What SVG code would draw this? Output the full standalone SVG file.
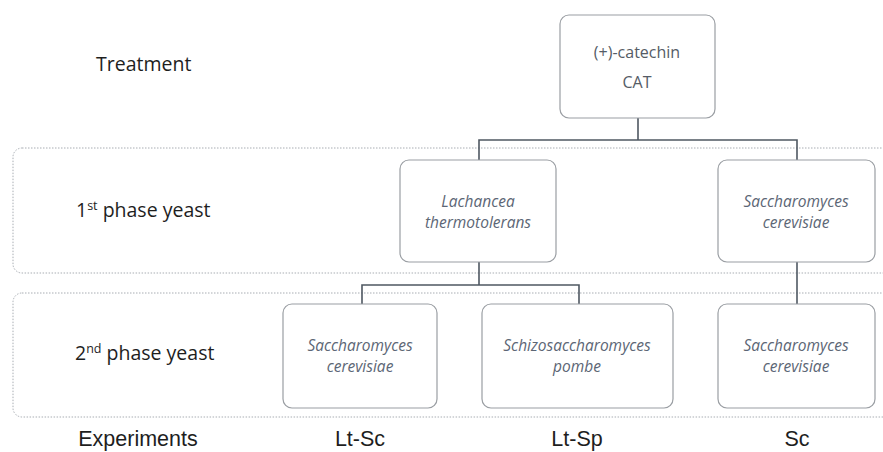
<svg xmlns="http://www.w3.org/2000/svg" width="883" height="452" viewBox="0 0 883 452">
<style>
.band{fill:none;stroke:#a8adb3;stroke-width:1;stroke-dasharray:1.5 1.5}
.box{fill:#fff;stroke:#9a9ea3;stroke-width:1.2}
.lbl{font-family:"Open Sans","Noto Sans",sans-serif;font-size:19.5px;fill:#1e1e1e}
.sp{font-family:"Open Sans","Noto Sans",sans-serif;font-size:15.5px;font-style:italic;fill:#5c6675;text-anchor:middle}
.cat{font-family:"Open Sans","Noto Sans",sans-serif;font-size:16px;fill:#555c66;text-anchor:middle}
.exp{font-family:"Liberation Sans",Arial,sans-serif;font-size:21.5px;fill:#1e1e1e;text-anchor:middle}
.con{fill:none;stroke:#4f5862;stroke-width:1.6}
</style>
<rect width="883" height="452" fill="#fff"/>
<g id="bands">
<rect class="band" x="13" y="148" width="890" height="125" rx="9"/>
<rect class="band" x="13" y="293" width="890" height="124" rx="9"/>
</g>
<g id="labels">
<text class="lbl" x="96" y="71">Treatment</text>
<text class="lbl" x="76" y="217">1<tspan font-size="12.5" dy="-7">st</tspan><tspan dy="7"> phase yeast</tspan></text>
<text class="lbl" x="75" y="360">2<tspan font-size="12.5" dy="-7">nd</tspan><tspan dy="7"> phase yeast</tspan></text>
<text class="exp" x="138" y="446">Experiments</text>
<text class="exp" x="360" y="446">Lt-Sc</text>
<text class="exp" x="577" y="446">Lt-Sp</text>
<text class="exp" x="797" y="446">Sc</text>
</g>
<g id="connectors">
<path class="con" d="M638 118V140M479 160V140H797V160"/>
<path class="con" d="M479 262V285M362 304V285H579V304"/>
<path class="con" d="M797 262V304"/>
</g>
<g id="cat">
<rect class="box" x="560" y="15" width="155" height="103" rx="9"/>
<text class="cat" x="637" y="58">(+)-catechin</text>
<text class="cat" x="637" y="88" font-size="15.5">CAT</text>
</g>
<g id="lachancea">
<rect class="box" x="400" y="160" width="156" height="102" rx="9"/>
<text class="sp" x="478" y="207">Lachancea</text>
<text class="sp" x="478" y="228">thermotolerans</text>
</g>
<g id="sc1">
<rect class="box" x="718" y="160" width="157" height="102" rx="9"/>
<text class="sp" x="796" y="207">Saccharomyces</text>
<text class="sp" x="796" y="228">cerevisiae</text>
</g>
<g id="ltsc">
<rect class="box" x="283" y="304" width="154" height="104" rx="9"/>
<text class="sp" x="360" y="351">Saccharomyces</text>
<text class="sp" x="360" y="372">cerevisiae</text>
</g>
<g id="ltsp">
<rect class="box" x="482" y="304" width="191" height="104" rx="9"/>
<text class="sp" x="577" y="351">Schizosaccharomyces</text>
<text class="sp" x="577" y="372">pombe</text>
</g>
<g id="sc2">
<rect class="box" x="718" y="304" width="157" height="104" rx="9"/>
<text class="sp" x="796" y="351">Saccharomyces</text>
<text class="sp" x="796" y="372">cerevisiae</text>
</g>
</svg>
